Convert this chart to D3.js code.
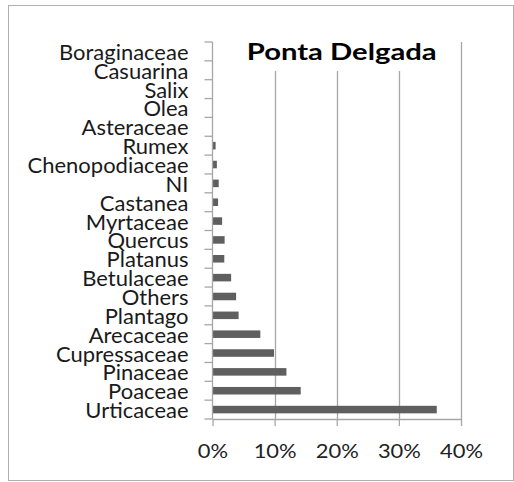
<!DOCTYPE html>
<html><head><meta charset="utf-8">
<script src="https://cdn.jsdelivr.net/npm/d3@7"></script>
<style>html,body{margin:0;padding:0;background:#fff;}svg{display:block;}</style>
</head><body>
<script>
const title = "Ponta Delgada";
const categories = ["Boraginaceae","Casuarina","Salix","Olea","Asteraceae","Rumex","Chenopodiaceae","NI","Castanea","Myrtaceae","Quercus","Platanus","Betulaceae","Others","Plantago","Arecaceae","Cupressaceae","Pinaceae","Poaceae","Urticaceae"];
const values = [0.02,0.03,0.04,0.05,0.08,0.5,0.7,1.0,0.9,1.55,1.95,1.9,3.0,3.8,4.2,7.7,9.9,11.9,14.2,36.1];
const xTicks = [0,10,20,30,40];

const W=514,H=482;
const svg=d3.select("body").append("svg").attr("width",W).attr("height",H);
const font="Lato, 'Open Sans', sans-serif";

svg.append("rect").attr("x",8.5).attr("y",5.5).attr("width",505).attr("height",475)
  .attr("fill","#fff").attr("stroke","#b0b0b0");

const m={l:212.5,r:461,t:42,b:419};
const x=d3.scaleLinear().domain([0,40]).range([m.l,m.r]);
const y=d3.scaleBand().domain(categories).range([m.t,m.b]).paddingInner(0.6).paddingOuter(0.3);
const yb=d3.scaleBand().domain(categories).range([m.t,m.b]);

function measure(str, size, weight){
  const tmp=svg.append("text").attr("font-family",font).attr("font-weight",weight).attr("font-size",size).text(str);
  const w=tmp.node().getComputedTextLength(); tmp.remove(); return w;
}

// gridlines
svg.append("g").selectAll("line").data(xTicks.slice(1)).join("line")
  .attr("x1",d=>Math.round(x(d))+0.5).attr("x2",d=>Math.round(x(d))+0.5)
  .attr("y1",m.t).attr("y2",m.b).attr("stroke","#a6a6a6").attr("stroke-width",1.3);

// bars
svg.append("g").selectAll("rect").data(values).join("rect")
  .attr("x",x(0)).attr("y",(d,i)=>y(categories[i]))
  .attr("width",d=>x(d)-x(0)).attr("height",y.bandwidth())
  .attr("fill","#5f5f5f");

// x axis
const tickSize=20;
const tsx=43/measure("40%",tickSize,"normal");
const xa=svg.append("g").attr("transform",`translate(0,${m.b})`)
  .call(d3.axisBottom(x).tickValues(xTicks).tickFormat(d=>d+"%").tickSize(7).tickSizeOuter(0));
xa.select(".domain").attr("stroke","#a6a6a6").attr("stroke-width",1.3);
xa.selectAll(".tick line").attr("stroke","#a6a6a6").attr("stroke-width",1.3);
xa.selectAll("text").attr("font-family",font).attr("font-size",tickSize).attr("fill","#222")
  .attr("y",0).attr("dy",0).attr("transform",`translate(0,39) scale(${tsx},1)`);

// y axis
const ya=svg.append("g").attr("transform",`translate(${m.l},0)`);
ya.append("line").attr("x1",0).attr("x2",0).attr("y1",m.t).attr("y2",m.b).attr("stroke","#a6a6a6").attr("stroke-width",1.3);
const bounds=categories.map(c=>yb(c)).concat([m.b]);
ya.selectAll(".tk").data(bounds).join("line").attr("class","tk")
  .attr("x1",-8).attr("x2",0).attr("y1",d=>d).attr("y2",d=>d).attr("stroke","#a6a6a6").attr("stroke-width",1.3);
const labSize=21;
const lsx=161/measure("Chenopodiaceae",labSize,"normal");
ya.selectAll(".lbl").data(categories).join("text").attr("class","lbl")
  .attr("x",0).attr("y",0).attr("text-anchor","end")
  .attr("transform",d=>`translate(-24,${yb(d)+yb.bandwidth()/2+8.5}) scale(${lsx},1)`)
  .attr("font-family",font).attr("font-size",labSize).attr("fill","#1a1a1a").text(d=>d);

// title background + title
svg.append("rect").attr("x",236).attr("y",m.t).attr("width",212).attr("height",29).attr("fill","#fff");
const titleSize=23;
const tx=190/measure(title,titleSize,"bold");
svg.append("text").attr("x",0).attr("y",0).attr("text-anchor","middle")
  .attr("transform",`translate(341.7,59.5) scale(${tx},1)`)
  .attr("font-family",font).attr("font-weight","bold").attr("font-size",titleSize).attr("fill","#000").text(title);
</script>
</body></html>
